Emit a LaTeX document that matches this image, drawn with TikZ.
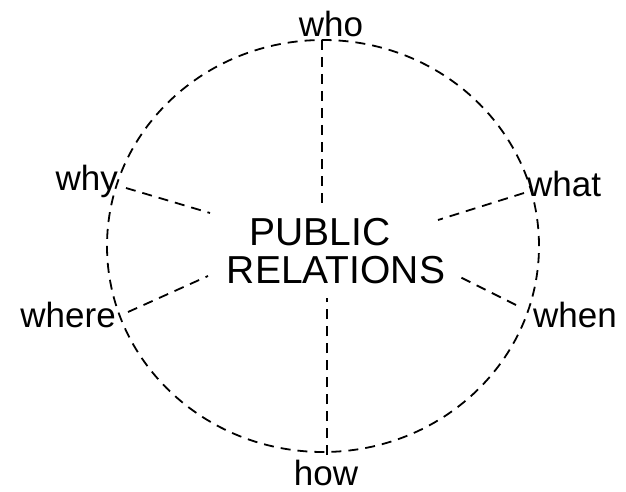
\documentclass[tikz,border=0pt]{standalone}
\usepackage{fontspec}
\setmainfont{Liberation Sans}
\usetikzlibrary{positioning}

\begin{document}
\begin{tikzpicture}[
  x=1pt, y=-1pt,
  spoke/.style={line width=1.8pt, dash pattern=on 10pt off 7pt},
  word/.style={inner sep=0pt, font=\fontsize{35}{36}\selectfont},
  title/.style={inner sep=0pt, font=\fontsize{39}{40}\selectfont}
]
\useasboundingbox (0,0) rectangle (626,492);

% Rim
\draw[spoke] (323,246) ellipse [x radius=216pt, y radius=206pt];

% Centre text
\node[title, anchor=base] (pub) at (320,245) {PUBLIC};
\node[title, anchor=base] (rel) at (336,283) {RELATIONS};

% Question words round the rim
\node[word, anchor=base] (who) at (331,37) {who};
\node[word, anchor=base] (how) at (326,485) {how};
\node[word, anchor=base east] (why) at (118,190) {why};
\node[word, anchor=base east] (where) at (116,327) {where};
\node[word, anchor=base west] (what) at (527,196) {what};
\node[word, anchor=base west] (when) at (533,327) {when};

% Spoke ends
\coordinate (rwho) at (322,40);
\coordinate (cwho) at (322,207);
\coordinate (rhow) at (327,455);
\coordinate (chow) at (327,298);
\coordinate (rwhy) at (126,188);
\coordinate (cwhy) at (210,213);
\coordinate (rwhere) at (128,312);
\coordinate (cwhere) at (208,276);
\coordinate (rwhat) at (524,193);
\coordinate (cwhat) at (438,220);
\coordinate (rwhen) at (516,305);
\coordinate (cwhen) at (456,275);

% Spokes
\foreach \w in {who,how,why,where,what,when} {
  \draw[spoke] (r\w) -- (c\w);
}

\end{tikzpicture}
\end{document}
